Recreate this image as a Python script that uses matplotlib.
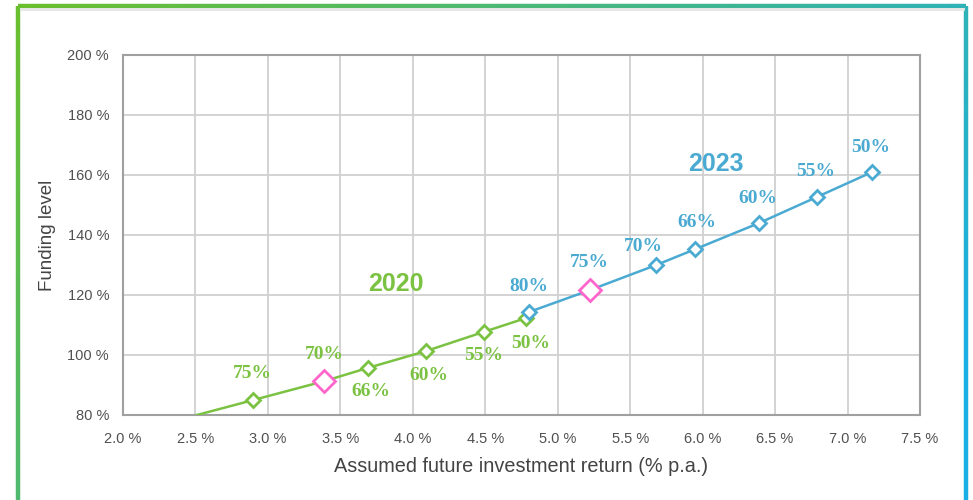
import numpy as np
import matplotlib.pyplot as plt
from matplotlib.collections import LineCollection

# Data
x2020 = [2.51, 2.90, 3.39, 3.69, 4.09, 4.49, 4.78]
y2020 = [80.0, 85.0, 91.3, 95.7, 101.3, 107.7, 112.3]
lab2020 = ["", "75%", "70%", "66%", "60%", "55%", "50%"]
x2023 = [4.80, 5.22, 5.68, 5.95, 6.39, 6.79, 7.17]
y2023 = [114.3, 121.6, 130.0, 135.3, 144.0, 152.7, 161.0]
lab2023 = ["80%", "75%", "70%", "66%", "60%", "55%", "50%"]
xticks = [2.0, 2.5, 3.0, 3.5, 4.0, 4.5, 5.0, 5.5, 6.0, 6.5, 7.0, 7.5]
yticks = [80, 100, 120, 140, 160, 180, 200]

GREEN = "#7cc242"
BLUE = "#4aaad2"
PINK = "#ff66cc"

fig = plt.figure(figsize=(9.73, 5.0), dpi=100)
W, H = 973, 500

# Gradient frame
def fc(px, py):
    return px / W, 1 - py / H

def grad_color(px, py):
    t = np.clip((px / W) * 0.75 + (py / H) * 0.35, 0, 1)
    c0 = np.array([0x6c, 0xbf, 0x2a]) / 255
    c1 = np.array([0x1a, 0xae, 0xe6]) / 255
    return tuple(c0 * (1 - t) + c1 * t)

segs, cols = [], []
L, T, R, B = 17.5, 6, 966, 500
for a, b in [((L, B), (L, T)), ((L, T), (R, T)), ((R, T), (R, B))]:
    n = 200
    xs = np.linspace(a[0], b[0], n + 1)
    ys = np.linspace(a[1], b[1], n + 1)
    for i in range(n):
        segs.append([fc(xs[i], ys[i]), fc(xs[i + 1], ys[i + 1])])
        cols.append(grad_color((xs[i] + xs[i + 1]) / 2, (ys[i] + ys[i + 1]) / 2))
lc = LineCollection(segs, colors=cols, linewidths=3.2, transform=fig.transFigure)
fig.add_artist(lc)
fig.add_artist(plt.Line2D([fc(L + 3, 0)[0], fc(R - 3, 0)[0]], [fc(0, 9)[1]] * 2,
                          color="#e6e6e6", lw=2, transform=fig.transFigure))

ax = fig.add_axes([123 / W, 1 - 415 / H, (920 - 123) / W, (415 - 55) / H])
ax.set_xlim(2.0, 7.5)
ax.set_ylim(80, 200)
ax.set_xticks(xticks)
ax.set_yticks(yticks)
ax.set_xticklabels([f"{v:.1f} %" for v in xticks], fontsize=10.5, color="#505050", family="Liberation Sans")
ax.set_yticklabels([f"{v} %" for v in yticks], fontsize=10.5, color="#505050", family="Liberation Sans")
ax.tick_params(axis="x", length=0, pad=12)
ax.tick_params(axis="y", length=0, pad=10)
ax.grid(True, color="#d0d0d0", lw=1.3)
ax.set_axisbelow(True)
for s in ax.spines.values():
    s.set_color("#a0a0a0")
    s.set_linewidth(1.5)

ax.set_xlabel("Assumed future investment return (% p.a.)", fontsize=14.3, color="#444444",
              family="Liberation Sans", labelpad=8)
ax.set_ylabel("Funding level", fontsize=13.5, color="#444444", family="Liberation Sans", labelpad=8)

# lines
ax.plot(x2020, y2020, color=GREEN, lw=1.8, zorder=3)
ax.plot(x2023, y2023, color=BLUE, lw=1.8, zorder=3)

def marks(xs, ys, col, pink_idx):
    for i, (xx, yy) in enumerate(zip(xs, ys)):
        if i == pink_idx:
            ax.plot(xx, yy, marker="D", ms=11, mfc="white", mec=PINK, mew=2.0, zorder=5)
        else:
            ax.plot(xx, yy, marker="D", ms=7.5, mfc="white", mec=col, mew=2.0, zorder=4)

marks(x2020[1:], y2020[1:], GREEN, 1)
marks(x2023, y2023, BLUE, 1)

lf = dict(fontsize=14, fontweight="bold", family="Liberation Serif", ha="center", va="center")
off2020 = [(0, 0), (-0.01, 8.7), (0, 9.0), (0.02, -8.0), (0.02, -8.0), (0, -7.7), (0.035, -8.6)]
for i in range(1, len(x2020)):
    dx, dy = off2020[i]
    ax.text(x2020[i] + dx, y2020[i] + dy, lab2020[i], color=GREEN, **lf)
off2023 = [(0.0, 8.4), (0, 9.2), (-0.09, 6.3), (0.01, 9.0), (-0.01, 8.3), (-0.01, 8.3), (-0.01, 8.3)]
for i in range(len(x2023)):
    dx, dy = off2023[i]
    ax.text(x2023[i] + dx, y2023[i] + dy, lab2023[i], color=BLUE, **lf)

ax.text(3.884, 123.7, "2020", color=GREEN, fontsize=18, fontweight="bold", family="Liberation Sans",
        ha="center", va="center")
ax.text(6.093, 163.7, "2023", color=BLUE, fontsize=18, fontweight="bold", family="Liberation Sans",
        ha="center", va="center")

fig.savefig("out.png", dpi=100)
